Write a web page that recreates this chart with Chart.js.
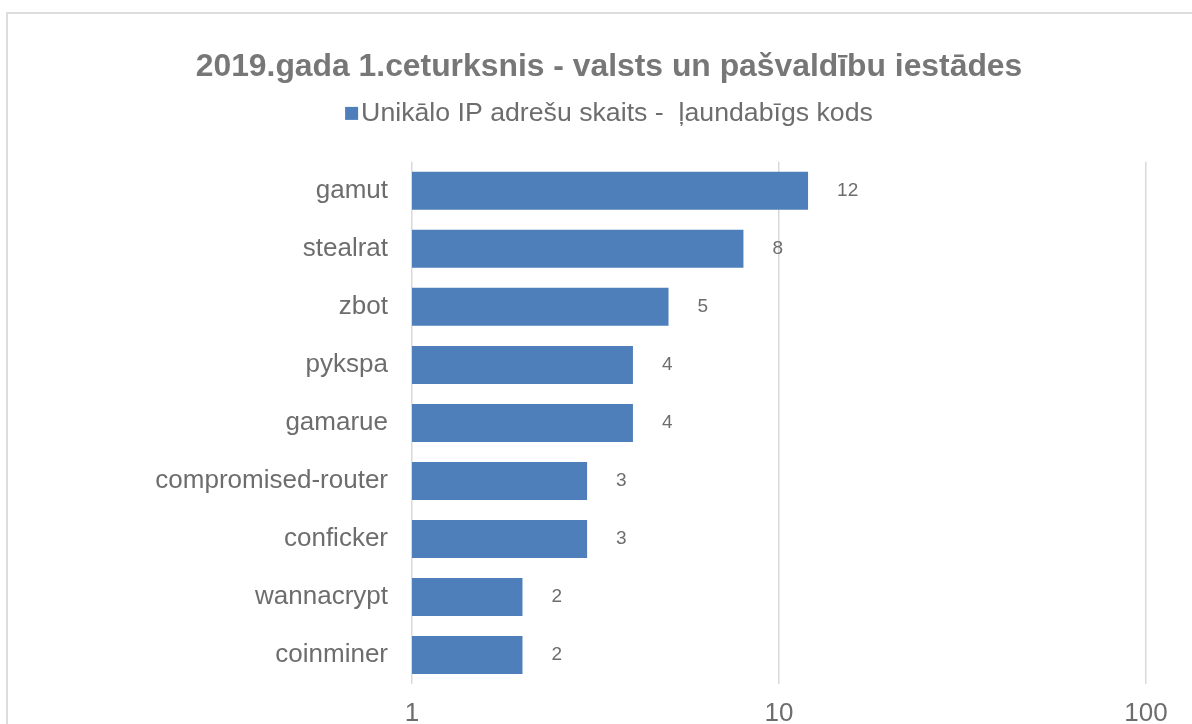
<!DOCTYPE html>
<html>
<head>
<meta charset="utf-8">
<script src="https://cdn.jsdelivr.net/npm/chart.js@4/dist/chart.umd.min.js"></script>
<style>
  html, body { margin: 0; padding: 0; background: #fff; overflow: hidden; }
  #frame {
    position: absolute; left: 6px; top: 12px;
    width: 1300px; height: 800px;
    border: 2px solid #dcdcdc;
  }
  #wrap { position: absolute; left: 0; top: 0; width: 1192px; height: 724px; }
</style>
</head>
<body>
<div id="frame"></div>
<div id="wrap"><canvas id="esChart"></canvas></div>
<script>
const categories = ["gamut", "stealrat", "zbot", "pykspa", "gamarue",
  "compromised-router", "conficker", "wannacrypt", "coinminer"];
const ipCounts = [12, 8, 5, 4, 4, 3, 3, 2, 2];
const tickValues = [1, 10, 100];
const seriesLabel = "Unikālo IP adrešu skaits -  ļaundabīgs kods";
const chartTitle = "2019.gada 1.ceturksnis - valsts un pašvaldību iestādes";

const fontFamily = "'Liberation Sans', Arial, Helvetica, sans-serif";
const barColor = "#4e7fbb";
const textColor = "#6d6d6d";

// value labels to the right of each bar
const valueLabels = {
  id: 'valueLabels',
  afterDatasetsDraw(chart) {
    const ctx = chart.ctx;
    const meta = chart.getDatasetMeta(0);
    ctx.save();
    ctx.font = "19px " + fontFamily;
    ctx.fillStyle = textColor;
    ctx.textAlign = 'left';
    ctx.textBaseline = 'middle';
    meta.data.forEach(function(bar, i) {
      ctx.fillText(String(chart.data.datasets[0].data[i]), bar.x + 29, bar.y);
    });
    ctx.restore();
  }
};

// legend line under the title: small square, tight gap, then the series name
const seriesKey = {
  id: 'seriesKey',
  afterDraw(chart) {
    const ctx = chart.ctx;
    const tb = chart.titleBlock;
    const ds = chart.data.datasets[0];
    ctx.save();
    ctx.font = "26.7px " + fontFamily;
    const w = ctx.measureText(ds.label).width;
    const total = 13 + 3 + w;
    const x0 = (tb.left + tb.right) / 2 - total / 2;
    const cy = tb.top + 48 + 38.4 + 27;
    ctx.fillStyle = ds.backgroundColor;
    ctx.fillRect(x0, cy - 6.5, 13, 13);
    ctx.fillStyle = textColor;
    ctx.textAlign = 'left';
    ctx.textBaseline = 'middle';
    ctx.fillText(ds.label, x0 + 16, cy);
    ctx.restore();
  }
};

function createBarChart() {
  const ctx = document.getElementById('esChart').getContext('2d');

  new Chart(ctx, {
    type: 'bar',
    data: {
      labels: categories,
      datasets: [{
        label: seriesLabel,
        data: ipCounts,
        backgroundColor: barColor,
        borderWidth: 0,
        barPercentage: 0.655,
        categoryPercentage: 1
      }]
    },
    options: {
      indexAxis: 'y',
      responsive: true,
      maintainAspectRatio: false,
      animation: false,
      layout: { padding: { top: 0, right: 46, bottom: 0, left: 72 } },
      plugins: {
        title: {
          display: true,
          text: chartTitle,
          color: "#777777",
          font: { family: fontFamily, size: 31.85, weight: 'bold' },
          padding: { top: 48, bottom: 75.6 }
        },
        legend: { display: false },
        tooltip: { enabled: false }
      },
      scales: {
        x: {
          type: 'logarithmic',
          min: 1,
          max: 100,
          afterBuildTicks: function(axis) {
            axis.ticks = tickValues.map(function(v) { return { value: v }; });
          },
          afterFit: function(scale) { scale.height = 40; },
          ticks: {
            color: textColor,
            font: { family: fontFamily, size: 26 },
            padding: 14,
            autoSkip: false,
            maxRotation: 0,
            callback: function(value) { return String(value); }
          },
          grid: { color: "#d9d9d9", lineWidth: 1.5, drawTicks: false },
          border: { display: false }
        },
        y: {
          afterFit: function(scale) { scale.width = 340; },
          ticks: {
            color: textColor,
            font: { family: fontFamily, size: 26 },
            padding: 24
          },
          grid: { display: false, drawTicks: false },
          border: { display: false }
        }
      }
    },
    plugins: [valueLabels, seriesKey]
  });
}

createBarChart();
</script>
</body>
</html>
